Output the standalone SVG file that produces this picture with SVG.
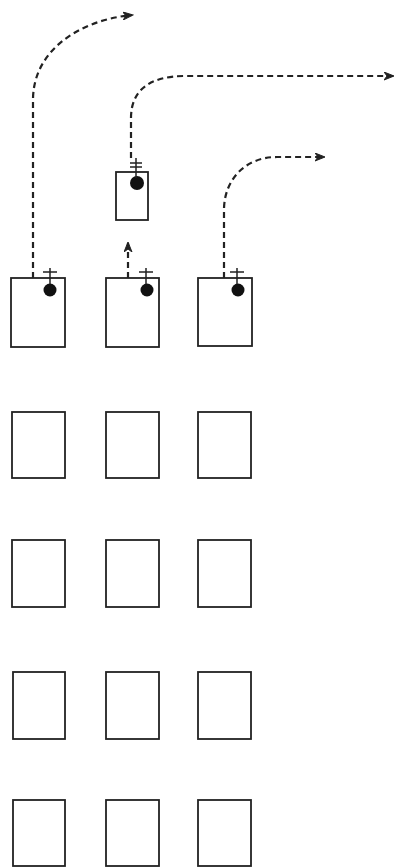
<svg xmlns="http://www.w3.org/2000/svg" width="397" height="867" viewBox="0 0 397 867">
<style>
.box{fill:none;stroke:#222;stroke-width:1.8}
.dot{fill:#111}
.mark{stroke:#222;stroke-width:1.5;fill:none}
.flow{fill:none;stroke:#222;stroke-width:2.2;stroke-dasharray:6 4}
</style>
<defs>
<marker id="ah" markerWidth="11" markerHeight="9" refX="9" refY="4.5" orient="auto" markerUnits="userSpaceOnUse">
<path d="M0,0.5 L10,4.5 L0,8.5 L3,4.5 Z" fill="#222" stroke="#222" stroke-width="1"/>
</marker>
</defs>
<rect width="397" height="867" fill="#fff"/>
<g id="connectors">
<path class="flow" d="M33,278 L33,100 C33,50 80,20 132,15" marker-end="url(#ah)"/>
<path class="flow" d="M128,278 L128,243" marker-end="url(#ah)"/>
<path class="flow" d="M131,158 L131,118 C131,90 150,76 185,76 L393,76" marker-end="url(#ah)"/>
<path class="flow" d="M224,278 L224,210 C224,180 245,157 277,157 L324,157" marker-end="url(#ah)"/>
</g>
<g id="small-box">
<rect class="box" x="116" y="172" width="32" height="48"/>
<circle class="dot" cx="137" cy="183" r="7"/>
<path class="mark" d="M136,158 V178 M130,163 H142 M130,167 H142"/>
</g>
<g id="r1c1"><rect class="box" x="11" y="278" width="54" height="69"/><circle class="dot" cx="50" cy="290" r="6.5"/><path class="mark" d="M50,268 V284 M43,272 H57"/></g>
<g id="r1c2"><rect class="box" x="106" y="278" width="53" height="69"/><circle class="dot" cx="147" cy="290" r="6.5"/><path class="mark" d="M146,268 V284 M139,272 H153"/></g>
<g id="r1c3"><rect class="box" x="198" y="278" width="54" height="68"/><circle class="dot" cx="238" cy="290" r="6.5"/><path class="mark" d="M237,268 V284 M230,272 H244"/></g>
<g id="r2c1"><rect class="box" x="12" y="412" width="53" height="66"/></g>
<g id="r2c2"><rect class="box" x="106" y="412" width="53" height="66"/></g>
<g id="r2c3"><rect class="box" x="198" y="412" width="53" height="66"/></g>
<g id="r3c1"><rect class="box" x="12" y="540" width="53" height="67"/></g>
<g id="r3c2"><rect class="box" x="106" y="540" width="53" height="67"/></g>
<g id="r3c3"><rect class="box" x="198" y="540" width="53" height="67"/></g>
<g id="r4c1"><rect class="box" x="13" y="672" width="52" height="67"/></g>
<g id="r4c2"><rect class="box" x="106" y="672" width="53" height="67"/></g>
<g id="r4c3"><rect class="box" x="198" y="672" width="53" height="67"/></g>
<g id="r5c1"><rect class="box" x="13" y="800" width="52" height="66"/></g>
<g id="r5c2"><rect class="box" x="106" y="800" width="53" height="66"/></g>
<g id="r5c3"><rect class="box" x="198" y="800" width="53" height="66"/></g>
</svg>
